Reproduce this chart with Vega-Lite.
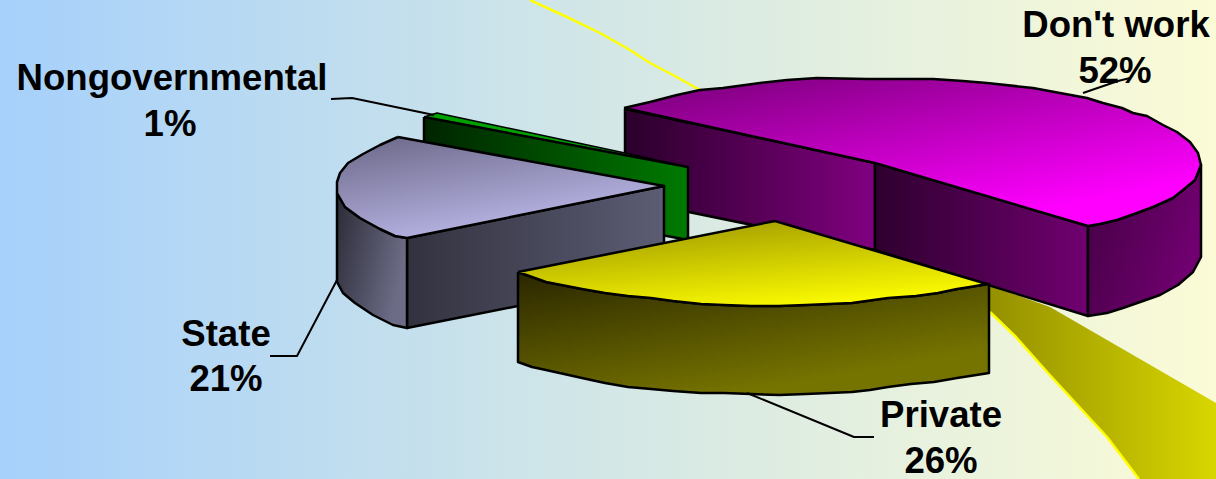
{"$schema":"https://vega.github.io/schema/vega-lite/v6.json","width":1216,"height":479,"autosize":{"type":"none"},"padding":0,"background":"#ffffff","config":{"view":{"stroke":null},"line":{"strokeJoin":"round"}},
"datasets":{
"bg":[{"x":0,"y":0,"x2":1216,"y2":479}],
"beam":[{"i":0,"x":530,"y":0},{"i":1,"x":567,"y":17},{"i":2,"x":600,"y":33},{"i":3,"x":630,"y":50},{"i":4,"x":650,"y":63},{"i":5,"x":673,"y":75},{"i":6,"x":700,"y":90}],
"ribbon":[{"i":0,"x":989,"y":285},{"i":1,"x":1050,"y":307},{"i":2,"x":1216,"y":403},{"i":3,"x":1216,"y":479},{"i":4,"x":1139,"y":479},{"i":5,"x":1107,"y":437},{"i":6,"x":1048,"y":373},{"i":7,"x":1016,"y":337},{"i":8,"x":990,"y":312},{"i":9,"x":989,"y":285}],
"edge":[{"i":0,"x":990,"y":312},{"i":1,"x":1016,"y":337},{"i":2,"x":1048,"y":373},{"i":3,"x":1107,"y":437},{"i":4,"x":1139,"y":479}],
"magLeft":[{"i":0,"x":625,"y":109},{"i":1,"x":875,"y":163},{"i":2,"x":875,"y":250},{"i":3,"x":625,"y":199},{"i":4,"x":625,"y":109}],
"magFront":[{"i":0,"x":875,"y":163},{"i":1,"x":1088,"y":226},{"i":2,"x":1088,"y":316},{"i":3,"x":875,"y":250},{"i":4,"x":875,"y":163}],
"magSide":[{"i":0,"x":1088,"y":226},{"i":1,"x":1100,"y":224},{"i":2,"x":1117,"y":220},{"i":3,"x":1137,"y":213},{"i":4,"x":1153,"y":207},{"i":5,"x":1173,"y":198},{"i":6,"x":1183,"y":190},{"i":7,"x":1195,"y":180},{"i":8,"x":1201,"y":165},{"i":9,"x":1201,"y":257},{"i":10,"x":1193,"y":272},{"i":11,"x":1178,"y":285},{"i":12,"x":1160,"y":295},{"i":13,"x":1143,"y":301},{"i":14,"x":1123,"y":308},{"i":15,"x":1107,"y":313},{"i":16,"x":1088,"y":316},{"i":17,"x":1088,"y":226}],
"magTop":[{"i":0,"x":624,"y":108},{"i":1,"x":650,"y":102},{"i":2,"x":677,"y":95},{"i":3,"x":700,"y":90},{"i":4,"x":723,"y":88},{"i":5,"x":760,"y":83},{"i":6,"x":787,"y":80},{"i":7,"x":817,"y":78},{"i":8,"x":867,"y":79},{"i":9,"x":933,"y":79},{"i":10,"x":963,"y":81},{"i":11,"x":987,"y":83},{"i":12,"x":1033,"y":88},{"i":13,"x":1060,"y":93},{"i":14,"x":1087,"y":98},{"i":15,"x":1103,"y":103},{"i":16,"x":1122,"y":108},{"i":17,"x":1133,"y":113},{"i":18,"x":1147,"y":116},{"i":19,"x":1163,"y":125},{"i":20,"x":1177,"y":132},{"i":21,"x":1190,"y":142},{"i":22,"x":1198,"y":153},{"i":23,"x":1201,"y":165},{"i":24,"x":1195,"y":180},{"i":25,"x":1183,"y":190},{"i":26,"x":1173,"y":198},{"i":27,"x":1153,"y":207},{"i":28,"x":1137,"y":213},{"i":29,"x":1117,"y":220},{"i":30,"x":1100,"y":224},{"i":31,"x":1088,"y":226},{"i":32,"x":875,"y":163},{"i":33,"x":624,"y":108}],
"greenTop":[{"i":0,"x":424,"y":117},{"i":1,"x":437,"y":113},{"i":2,"x":625,"y":153},{"i":3,"x":688,"y":167},{"i":4,"x":424,"y":117}],
"greenFace":[{"i":0,"x":424,"y":117},{"i":1,"x":688,"y":167},{"i":2,"x":688,"y":240},{"i":3,"x":424,"y":190},{"i":4,"x":424,"y":117}],
"lavFront":[{"i":0,"x":407,"y":238},{"i":1,"x":664,"y":186},{"i":2,"x":664,"y":277},{"i":3,"x":407,"y":328},{"i":4,"x":407,"y":238}],
"lavSide":[{"i":0,"x":337,"y":193},{"i":1,"x":345,"y":207},{"i":2,"x":360,"y":218},{"i":3,"x":380,"y":229},{"i":4,"x":395,"y":236},{"i":5,"x":407,"y":238},{"i":6,"x":407,"y":328},{"i":7,"x":393,"y":325},{"i":8,"x":373,"y":315},{"i":9,"x":355,"y":303},{"i":10,"x":343,"y":293},{"i":11,"x":337,"y":282},{"i":12,"x":337,"y":193}],
"lavTop":[{"i":0,"x":398,"y":137},{"i":1,"x":380,"y":145},{"i":2,"x":363,"y":154},{"i":3,"x":348,"y":163},{"i":4,"x":340,"y":173},{"i":5,"x":337,"y":182},{"i":6,"x":337,"y":193},{"i":7,"x":345,"y":207},{"i":8,"x":360,"y":218},{"i":9,"x":380,"y":229},{"i":10,"x":395,"y":236},{"i":11,"x":407,"y":238},{"i":12,"x":664,"y":186},{"i":13,"x":398,"y":137}],
"yelSide":[{"i":0,"x":518,"y":272},{"i":1,"x":532,"y":277},{"i":2,"x":546,"y":282},{"i":3,"x":582,"y":289},{"i":4,"x":605,"y":293},{"i":5,"x":628,"y":296},{"i":6,"x":651,"y":298},{"i":7,"x":673,"y":301},{"i":8,"x":701,"y":304},{"i":9,"x":724,"y":305},{"i":10,"x":751,"y":306},{"i":11,"x":779,"y":306},{"i":12,"x":806,"y":305},{"i":13,"x":829,"y":304},{"i":14,"x":852,"y":303},{"i":15,"x":888,"y":298},{"i":16,"x":916,"y":296},{"i":17,"x":938,"y":293},{"i":18,"x":957,"y":289},{"i":19,"x":970,"y":287},{"i":20,"x":989,"y":284},{"i":21,"x":989,"y":373},{"i":22,"x":970,"y":376},{"i":23,"x":957,"y":378},{"i":24,"x":934,"y":382},{"i":25,"x":911,"y":384},{"i":26,"x":888,"y":387},{"i":27,"x":870,"y":390},{"i":28,"x":852,"y":392},{"i":29,"x":829,"y":393},{"i":30,"x":806,"y":394},{"i":31,"x":779,"y":395},{"i":32,"x":751,"y":394},{"i":33,"x":724,"y":393},{"i":34,"x":701,"y":393},{"i":35,"x":673,"y":391},{"i":36,"x":651,"y":389},{"i":37,"x":628,"y":387},{"i":38,"x":605,"y":383},{"i":39,"x":582,"y":378},{"i":40,"x":546,"y":370},{"i":41,"x":532,"y":367},{"i":42,"x":518,"y":362},{"i":43,"x":518,"y":272}],
"yelTop":[{"i":0,"x":518,"y":272},{"i":1,"x":775,"y":221},{"i":2,"x":987,"y":284},{"i":3,"x":970,"y":287},{"i":4,"x":957,"y":289},{"i":5,"x":938,"y":293},{"i":6,"x":916,"y":296},{"i":7,"x":888,"y":298},{"i":8,"x":852,"y":303},{"i":9,"x":829,"y":304},{"i":10,"x":806,"y":305},{"i":11,"x":779,"y":306},{"i":12,"x":751,"y":306},{"i":13,"x":724,"y":305},{"i":14,"x":701,"y":304},{"i":15,"x":673,"y":301},{"i":16,"x":651,"y":298},{"i":17,"x":628,"y":296},{"i":18,"x":605,"y":293},{"i":19,"x":582,"y":289},{"i":20,"x":546,"y":282},{"i":21,"x":532,"y":277},{"i":22,"x":518,"y":272}],
"leaders":[{"g":"a","i":0,"x":331,"y":99},{"g":"a","i":1,"x":352,"y":98},{"g":"a","i":2,"x":434,"y":115},{"g":"b","i":0,"x":270,"y":356},{"g":"b","i":1,"x":297,"y":356},{"g":"b","i":2,"x":337,"y":280},{"g":"c","i":0,"x":747,"y":393},{"g":"c","i":1,"x":854,"y":437},{"g":"c","i":2,"x":874,"y":437},{"g":"d","i":0,"x":1083,"y":93},{"g":"d","i":1,"x":1118,"y":81},{"g":"d","i":2,"x":1130,"y":78}],
"labels":[{"t":"Nongovernmental","x":172,"y":90},{"t":"1%","x":170,"y":136},{"t":"State","x":226,"y":346},{"t":"21%","x":226,"y":391},{"t":"Private","x":941,"y":427},{"t":"26%","x":941,"y":473},{"t":"Don't work","x":1116,"y":37},{"t":"52%","x":1115,"y":83}]
},
"encoding":{"x":{"field":"x","type":"quantitative","scale":{"domain":[0,1216],"nice":false,"zero":false},"axis":null},"y":{"field":"y","type":"quantitative","scale":{"domain":[479,0],"nice":false,"zero":false},"axis":null}},
"layer":[
{"data":{"name":"bg"},"mark":{"type":"rect","fill":{"gradient":"linear","x1":0,"y1":0,"x2":1,"y2":0,"stops":[{"offset":0,"color":"#a6d0fb"},{"offset":0.5,"color":"#d3e7e6"},{"offset":1,"color":"#fbfbd6"}]}},"encoding":{"x2":{"field":"x2"},"y2":{"field":"y2"}}},
{"data":{"name":"beam"},"mark":{"type":"line","stroke":"#ffff00","strokeWidth":2.5},"encoding":{"order":{"field":"i"}}},
{"data":{"name":"ribbon"},"mark":{"type":"line","strokeWidth":0,"fill":{"gradient":"linear","x1":0,"y1":0,"x2":1,"y2":0,"stops":[{"offset":0,"color":"#949000"},{"offset":1,"color":"#d8d600"}]}},"encoding":{"order":{"field":"i"}}},
{"data":{"name":"edge"},"mark":{"type":"line","stroke":"#ffff00","strokeWidth":2.5},"encoding":{"order":{"field":"i"}}},
{"data":{"name":"magLeft"},"mark":{"type":"line","stroke":"#000000","strokeWidth":2.5,"fill":{"gradient":"linear","x1":0,"y1":0,"x2":1,"y2":0,"stops":[{"offset":0,"color":"#2a002a"},{"offset":1,"color":"#800080"}]}},"encoding":{"order":{"field":"i"}}},
{"data":{"name":"magFront"},"mark":{"type":"line","stroke":"#000000","strokeWidth":2.5,"fill":{"gradient":"linear","x1":0,"y1":0,"x2":1,"y2":0,"stops":[{"offset":0,"color":"#2e002e"},{"offset":1,"color":"#700070"}]}},"encoding":{"order":{"field":"i"}}},
{"data":{"name":"magSide"},"mark":{"type":"line","stroke":"#000000","strokeWidth":2.5,"fill":{"gradient":"linear","x1":0,"y1":0,"x2":1,"y2":0.4,"stops":[{"offset":0,"color":"#440044"},{"offset":1,"color":"#700070"}]}},"encoding":{"order":{"field":"i"}}},
{"data":{"name":"magTop"},"mark":{"type":"line","stroke":"#000000","strokeWidth":2.5,"fill":{"gradient":"linear","x1":0.05,"y1":0,"x2":0.72,"y2":0.9,"stops":[{"offset":0,"color":"#780078"},{"offset":1,"color":"#ff00ff"}]}},"encoding":{"order":{"field":"i"}}},
{"data":{"name":"greenTop"},"mark":{"type":"line","stroke":"#000000","strokeWidth":1.5,"fill":"#00a000"},"encoding":{"order":{"field":"i"}}},
{"data":{"name":"greenFace"},"mark":{"type":"line","stroke":"#000000","strokeWidth":2.5,"fill":{"gradient":"linear","x1":0,"y1":0,"x2":1,"y2":0,"stops":[{"offset":0,"color":"#002400"},{"offset":1,"color":"#007a00"}]}},"encoding":{"order":{"field":"i"}}},
{"data":{"name":"lavFront"},"mark":{"type":"line","stroke":"#000000","strokeWidth":2.5,"fill":{"gradient":"linear","x1":0,"y1":0,"x2":1,"y2":0,"stops":[{"offset":0,"color":"#32323f"},{"offset":1,"color":"#5c5c74"}]}},"encoding":{"order":{"field":"i"}}},
{"data":{"name":"lavSide"},"mark":{"type":"line","stroke":"#000000","strokeWidth":2.5,"fill":{"gradient":"linear","x1":0,"y1":0,"x2":1,"y2":0.4,"stops":[{"offset":0,"color":"#2a2a36"},{"offset":1,"color":"#6c6c86"}]}},"encoding":{"order":{"field":"i"}}},
{"data":{"name":"lavTop"},"mark":{"type":"line","stroke":"#000000","strokeWidth":2.5,"fill":{"gradient":"linear","x1":0.1,"y1":0,"x2":0.62,"y2":0.95,"stops":[{"offset":0,"color":"#6e6a8a"},{"offset":1,"color":"#bdbaec"}]}},"encoding":{"order":{"field":"i"}}},
{"data":{"name":"yelSide"},"mark":{"type":"line","stroke":"#000000","strokeWidth":2.5,"fill":{"gradient":"linear","x1":0,"y1":0,"x2":0.6,"y2":0.9,"stops":[{"offset":0,"color":"#2a2600"},{"offset":1,"color":"#767400"}]}},"encoding":{"order":{"field":"i"}}},
{"data":{"name":"yelTop"},"mark":{"type":"line","stroke":"#000000","strokeWidth":2.5,"fill":{"gradient":"linear","x1":0.25,"y1":0,"x2":0.72,"y2":1,"stops":[{"offset":0,"color":"#a09a00"},{"offset":1,"color":"#ffff00"}]}},"encoding":{"order":{"field":"i"}}},
{"data":{"name":"leaders"},"mark":{"type":"line","stroke":"#000000","strokeWidth":2},"encoding":{"detail":{"field":"g"},"order":{"field":"i"}}},
{"data":{"name":"labels"},"mark":{"type":"text","font":"Liberation Sans","fontWeight":"bold","fontSize":36.6,"align":"center","baseline":"alphabetic","fill":"#000000"},"encoding":{"text":{"field":"t"}}}
]}
